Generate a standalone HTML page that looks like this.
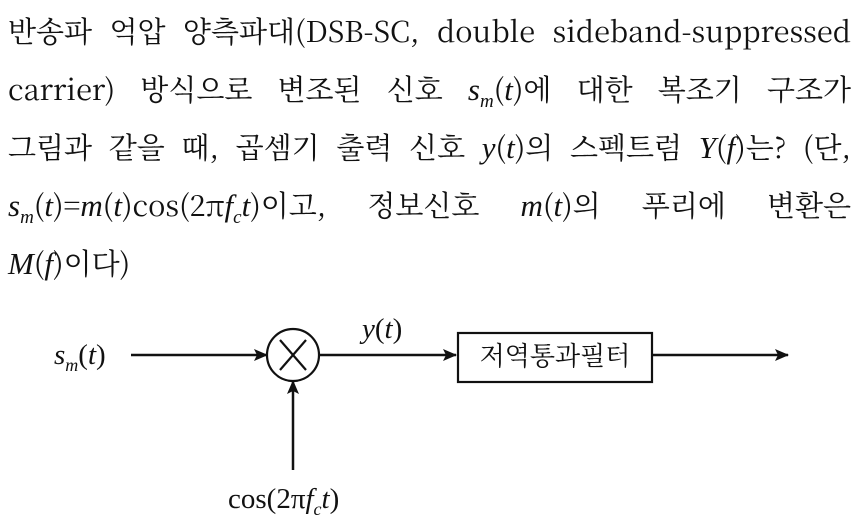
<!DOCTYPE html>
<html><head><meta charset="utf-8"><style>
body{margin:0;width:859px;height:528px;background:#fff;overflow:hidden;font-family:"Noto Serif CJK SC","Liberation Serif",serif;color:#111}
.l{position:absolute;left:8px;width:843px;font-size:29px;line-height:40px;text-align:justify;text-align-last:justify;white-space:nowrap}
.l.n{text-align-last:left}
i{font-style:italic;font-family:"Liberation Serif",serif;font-size:31px}
sub{font-size:19px;font-style:italic;font-family:"Liberation Serif",serif}
</style></head><body>
<div class="l" style="top:11px">반송파 억압 양측파대(DSB-SC, double sideband-suppressed</div>
<div class="l" style="top:69px">carrier) 방식으로 변조된 신호 <i>s</i><sub>m</sub>(<i>t</i>)에 대한 복조기 구조가</div>
<div class="l" style="top:127px">그림과 같을 때, 곱셈기 출력 신호 <i>y</i>(<i>t</i>)의 스펙트럼 <i>Y</i>(<i>f</i>)는? (단,</div>
<div class="l" style="top:185px"><i>s</i><sub>m</sub>(<i>t</i>)=<i>m</i>(<i>t</i>)cos(2π<i>f</i><sub>c</sub><i>t</i>)이고, 정보신호 <i>m</i>(<i>t</i>)의 푸리에 변환은</div>
<div class="l n" style="top:243px"><i>M</i>(<i>f</i>)이다)</div>
<svg width="859" height="528" style="position:absolute;left:0;top:0" font-family="Liberation Serif, serif">
<defs><marker id="a" markerWidth="14" markerHeight="12" refX="13" refY="6" orient="auto" markerUnits="userSpaceOnUse"><path d="M0,0 L14,6 L0,12 L3,6 Z" fill="#111"/></marker></defs>
<g stroke="#111" stroke-width="2.5" fill="none">
<line x1="131" y1="355" x2="267" y2="355" marker-end="url(#a)"/>
<circle cx="293" cy="355" r="26" stroke-width="2.2"/>
<line x1="280" y1="340" x2="306" y2="370" stroke-width="2.2"/>
<line x1="306" y1="340" x2="280" y2="370" stroke-width="2.2"/>
<line x1="319" y1="355" x2="456" y2="355" marker-end="url(#a)"/>
<rect x="458" y="333" width="194" height="49" stroke-width="2.2"/>
<line x1="652" y1="355" x2="788" y2="355" marker-end="url(#a)"/>
<line x1="293" y1="470" x2="293" y2="381" marker-end="url(#a)"/>
</g>
<text x="555" y="365" font-size="26" text-anchor="middle" font-family="Noto Serif CJK SC, serif" fill="#111">저역통과필터</text>
<text x="54" y="364" font-size="29" fill="#111"><tspan font-style="italic">s</tspan><tspan font-size="18" font-style="italic" dy="7">m</tspan><tspan dy="-7">(</tspan><tspan font-style="italic">t</tspan>)</text>
<text x="362" y="338" font-size="29" fill="#111"><tspan font-style="italic">y</tspan>(<tspan font-style="italic">t</tspan>)</text>
<text x="228" y="508" font-size="29" fill="#111">cos(2π<tspan font-style="italic">f</tspan><tspan font-size="18" font-style="italic" dy="7">c</tspan><tspan font-style="italic" dy="-7">t</tspan>)</text>
</svg>
</body></html>
